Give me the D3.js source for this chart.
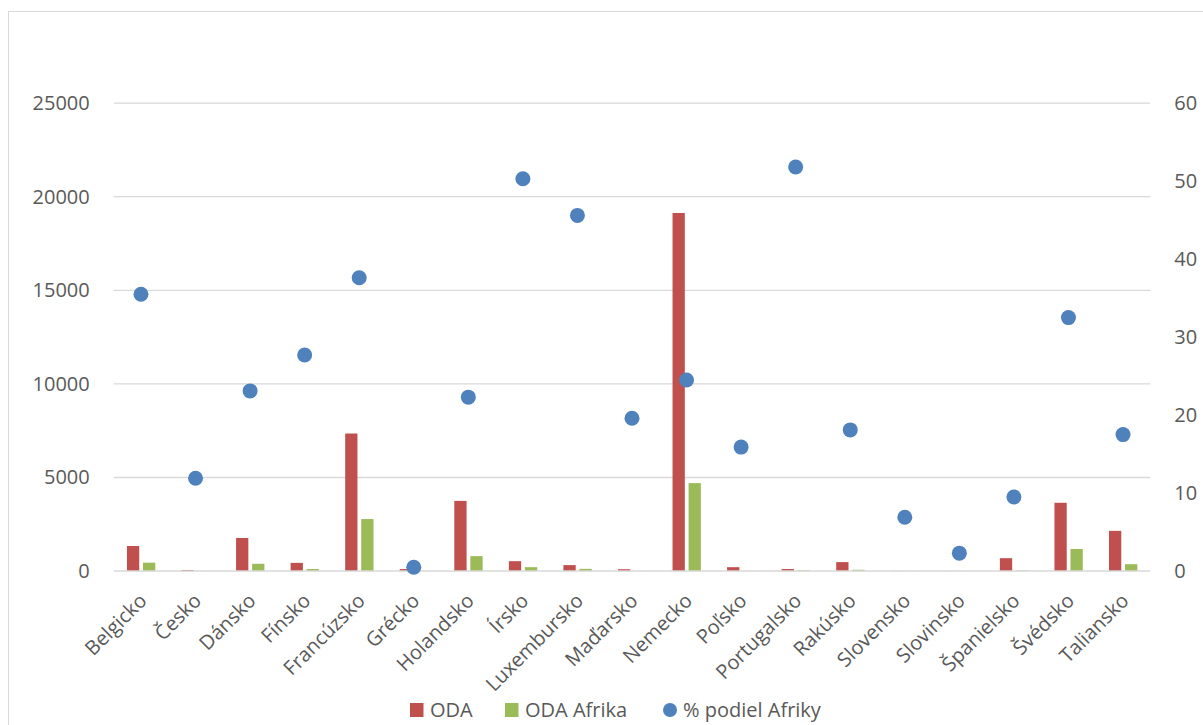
<!DOCTYPE html>
<html><head><meta charset="utf-8">
<script src="https://cdn.jsdelivr.net/npm/d3@7"></script>
<style>
html,body{margin:0;padding:0;background:#fff;}
svg{display:block;font-family:"Open Sans",sans-serif;}
</style></head>
<body><svg id="c" width="1203" height="725"></svg>
<script>
const categories = ["Belgicko","Česko","Dánsko","Fínsko","Francúzsko","Grécko","Holandsko","Írsko","Luxembursko","Maďarsko","Nemecko","Poľsko","Portugalsko","Rakúsko","Slovensko","Slovinsko","Španielsko","Švédsko","Taliansko"];
const odaValues = [1340,60,1770,440,7350,110,3750,530,320,100,19130,210,110,480,10,10,690,3650,2150];
const odaAfrikaValues = [450,5,390,110,2780,5,800,210,120,10,4700,10,40,70,5,5,30,1180,370];
const podielValues = [35.5,11.9,23.1,27.7,37.6,0.5,22.3,50.3,45.6,19.6,24.5,15.9,51.8,18.1,6.9,2.3,9.5,32.5,17.5];
const leftTicks = [0,5000,10000,15000,20000,25000];
const rightTicks = [0,10,20,30,40,50,60];
const seriesNames = ["ODA","ODA Afrika","% podiel Afriky"];

const svg = d3.select("#c");
const W = 1203, H = 725;
const plot = {left:113.7, right:1150.3, top:103.1, bottom:571.1};
const textColor = "#595959", gridColor = "#d9d9d9";
const cRed = "#c0504d", cGreen = "#9bbb59", cBlue = "#4f81bd";

// frame
svg.append("rect").attr("x",8.5).attr("y",11.5).attr("width",W+10).attr("height",H+10)
  .attr("fill","#fff").attr("stroke",gridColor).attr("stroke-width",1);

const x = d3.scaleBand().domain(categories).range([plot.left, plot.right]).padding(0);
const yL = d3.scaleLinear().domain([0,25000]).range([plot.bottom, plot.top]);
const yR = d3.scaleLinear().domain([0,60]).range([plot.bottom, plot.top]);
const bw = x.bandwidth();

// gridlines
const grid = svg.append("g");
grid.selectAll("line").data(leftTicks.filter(d=>d>0)).join("line")
  .attr("x1",plot.left).attr("x2",plot.right)
  .attr("y1",d=>yL(d)).attr("y2",d=>yL(d))
  .attr("stroke",gridColor).attr("stroke-width",1.3);

// left axis
const axL = svg.append("g").attr("transform",`translate(${plot.left},0)`)
  .call(d3.axisLeft(yL).tickValues(leftTicks).tickSize(0).tickPadding(24).tickFormat(d3.format("d")));
axL.select(".domain").remove();
axL.selectAll("text").attr("fill",textColor).style("font-size","20px").style("font-family","'Open Sans',sans-serif");

// right axis
const axR = svg.append("g").attr("transform",`translate(${plot.right},0)`)
  .call(d3.axisRight(yR).tickValues(rightTicks).tickSize(0).tickPadding(24).tickFormat(d3.format("d")));
axR.select(".domain").remove();
axR.selectAll("text").attr("fill",textColor).style("font-size","20px").style("font-family","'Open Sans',sans-serif");

// bars
const rows = categories.map((c,i)=>({c, oda:odaValues[i], af:odaAfrikaValues[i], p:podielValues[i]}));
svg.append("g").selectAll("rect").data(rows).join("rect")
  .attr("x",d=>x(d.c)+bw*0.243).attr("width",bw*0.225)
  .attr("y",d=>yL(d.oda)).attr("height",d=>yL(0)-yL(d.oda)).attr("fill",cRed);
svg.append("g").selectAll("rect").data(rows).join("rect")
  .attr("x",d=>x(d.c)+bw*0.537).attr("width",bw*0.225)
  .attr("y",d=>yL(d.af)).attr("height",d=>yL(0)-yL(d.af)).attr("fill",cGreen);

// x axis baseline
svg.append("line").attr("x1",plot.left).attr("x2",plot.right)
  .attr("y1",plot.bottom).attr("y2",plot.bottom).attr("stroke",gridColor).attr("stroke-width",1.5);

// dots
svg.append("g").selectAll("circle").data(rows).join("circle")
  .attr("cx",d=>x(d.c)+bw/2).attr("cy",d=>yR(d.p)).attr("r",7.5).attr("fill",cBlue);

// x labels
const axB = svg.append("g").attr("transform",`translate(0,${plot.bottom})`)
  .call(d3.axisBottom(x).tickSize(0).tickPadding(0));
axB.select(".domain").remove();
axB.selectAll(".tick text")
  .attr("fill",textColor).style("font-size","20px").style("font-family","'Open Sans',sans-serif")
  .attr("text-anchor","end").attr("dy",0).attr("y",0)
  .attr("transform","translate(7,31) rotate(-45)");

// legend
const leg = svg.append("g");
const legItems = [
  {name:seriesNames[0], color:cRed, type:"rect", x:410},
  {name:seriesNames[1], color:cGreen, type:"rect", x:505},
  {name:seriesNames[2], color:cBlue, type:"circle", x:663}
];
legItems.forEach(it=>{
  if(it.type==="rect"){
    leg.append("rect").attr("x",it.x).attr("y",703).attr("width",13.5).attr("height",14).attr("fill",it.color);
  } else {
    leg.append("circle").attr("cx",it.x+7).attr("cy",710).attr("r",7).attr("fill",it.color);
  }
  leg.append("text").attr("x",it.x+20).attr("y",717).attr("fill",textColor)
    .style("font-size","20px").text(it.name);
});
</script></body></html>
